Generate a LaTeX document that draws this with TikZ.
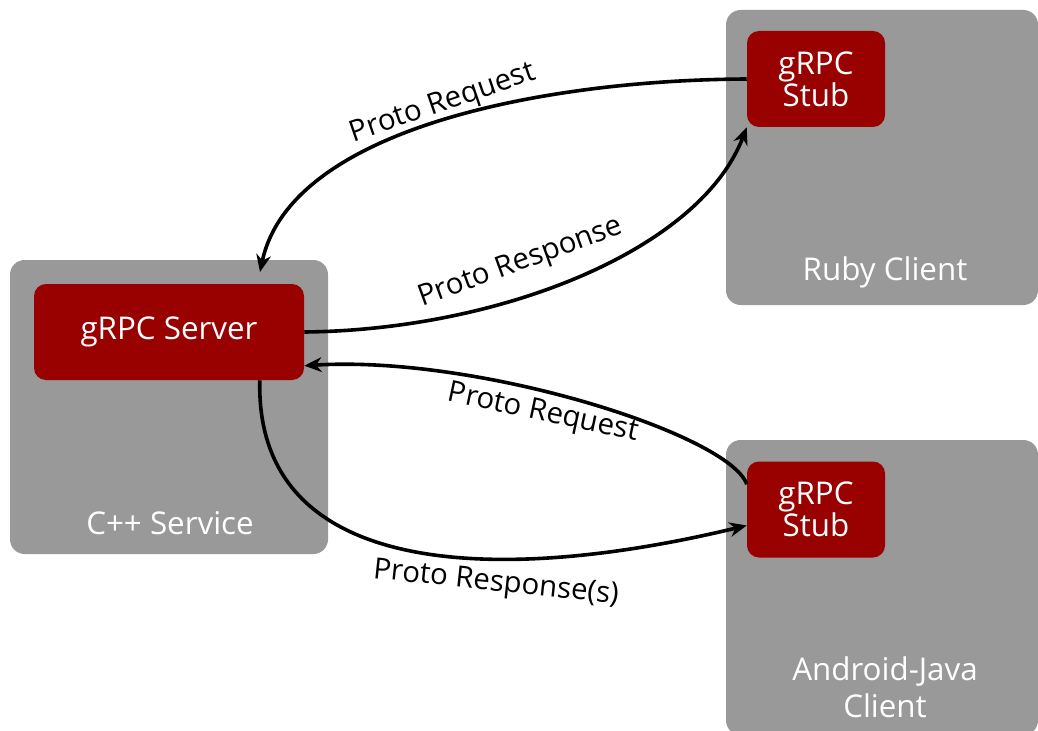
\documentclass[tikz,border=0pt]{standalone}
\usepackage{fontspec}
\setmainfont{Open Sans}
\usetikzlibrary{arrows.meta}
\definecolor{StubRed}{HTML}{990000}
\definecolor{HostGray}{HTML}{999999}
\newcommand{\hostfont}{\fontsize{23.5}{24}\selectfont}
\newcommand{\msgfont}{\fontsize{22}{24}\selectfont}

\begin{document}
\begin{tikzpicture}[x=0.75pt, y=-0.75pt,
        >=Stealth,
        host/.style={fill=HostGray, rounded corners=11pt, inner sep=0pt},
        rpc/.style={fill=StubRed, rounded corners=9pt, inner sep=0pt, text=white,
                    align=center, font=\hostfont},
        hlabel/.style={text=white, align=center, font=\hostfont},
        msg/.style={font=\msgfont},
        a/.style={-{Stealth[length=13pt, width=11pt]}, line width=2.7pt},
      ]
        \useasboundingbox[fill=white] (0,0) rectangle (1038,731);
        % C++ service
        \node[host, minimum width=238.5pt, minimum height=220.5pt] (cpp) at (169,407) {};
        \node[rpc, minimum width=202.5pt, minimum height=72pt] (server) at (169,332) {gRPC Server};
        \node[hlabel] (cpplbl) at (170,523) {C++ Service};
        % Ruby client
        \node[host, minimum width=234pt, minimum height=221.25pt] (ruby) at (882,157.5) {};
        \node[rpc, minimum width=103.5pt, minimum height=72pt] (rstub) at (816,79) {gRPC\\Stub};
        \node[hlabel] (rubylbl) at (885,272) {Ruby Client};
        % Android-Java client
        \node[host, minimum width=234pt, minimum height=221.25pt] (android) at (882,587.5) {};
        \node[rpc, minimum width=103.5pt, minimum height=72pt] (astub) at (816,509.5) {gRPC\\Stub};
        \node[hlabel, font=\fontsize{23.5}{28}\selectfont] (androidlbl) at (885,687) {Android-Java\\Client};
        % calls
        \coordinate (reqtip) at (260,272);
        \draw[a] (rstub.west) .. controls (540,80) and (290,130) .. (reqtip);
        \draw[a] (server.east) .. controls (500,330) and (700,250) .. (rstub.south west);
        \draw[a] (astub.160) .. controls (730,435) and (480,355) .. (server.-14);
        \draw[a] (server.-28) .. controls (255,580) and (500,585) .. (astub.-167);
        \node[msg, rotate=19] (req1) at (443,104) {Proto Request};
        \node[msg, rotate=20] (resp1) at (521,263) {Proto Response};
        \node[msg, rotate=-12] (req2) at (543,414) {Proto Request};
        \node[msg, rotate=-6] (resp2) at (496,584) {Proto Response(s)};
      \end{tikzpicture}
\end{document}
